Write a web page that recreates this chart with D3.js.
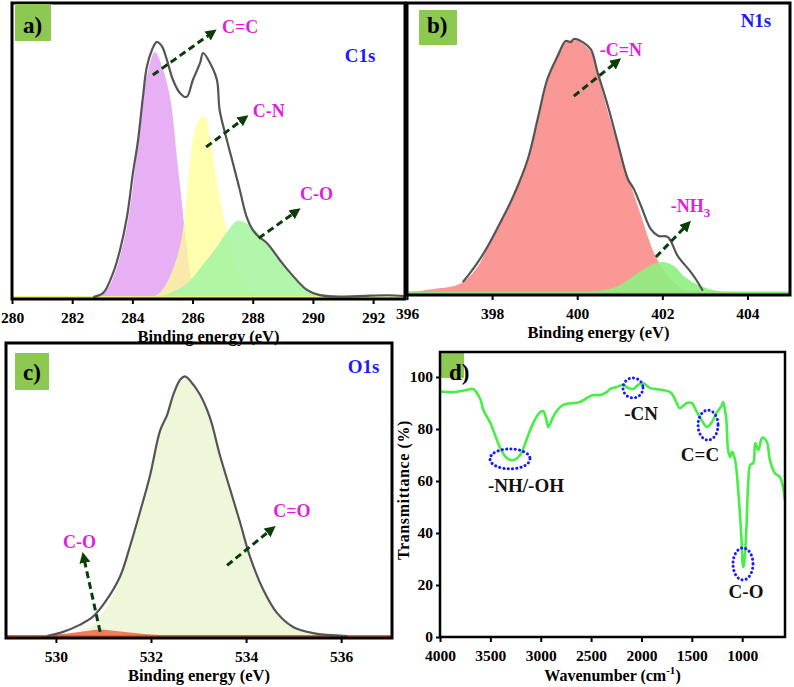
<!DOCTYPE html>
<html>
<head>
<meta charset="utf-8">
<script src="https://cdn.jsdelivr.net/npm/d3@7"></script>
<style>
  body { margin: 0; background: #fff; }
  svg text { font-family: "Liberation Serif", "Tinos", "DejaVu Serif", "Times New Roman", Times, serif !important; font-weight: bold; }
</style>
</head>
<body>
<svg id="fig" width="794" height="687"></svg>
<script>
// ---- C1s (eV, intensity a.u.) ----
const c1sEnvelope = [[282.7,0],[283.03,1.4],[283.36,8.2],[283.59,16],[283.82,27.2],[284.02,42.2],[284.19,53.4],[284.35,68],[284.48,78.2],[284.65,84],[284.8,86.7],[284.9,86.3],[285.0,85],[285.15,80.6],[285.35,73.8],[285.58,69.4],[285.8,68],[286.01,73.8],[286.25,79.6],[286.35,83],[286.58,79.6],[286.81,73.8],[286.9,63.6],[287.14,53.4],[287.34,45.6],[287.57,36.4],[287.8,27.2],[288.0,22.8],[288.2,20.5],[288.47,18.4],[288.9,12.6],[289.25,8.2],[289.8,2.4],[290.2,0.7],[290.7,0.2],[291.5,0.3],[292.5,0.6],[293.05,0.3]];
const c1sCC = [[280,0],[282.8,0],[283.15,2.4],[283.45,9],[283.8,23],[284.0,36],[284.25,59],[284.5,76],[284.75,83.3],[285.0,78],[285.25,68],[285.5,45.6],[285.6,36.4],[285.8,18],[286.0,5],[286.25,1.5],[286.6,0],[293.05,0]];
const c1sCN = [[280,0],[284.6,0],[284.9,1.4],[285.25,7],[285.6,18],[285.8,34],[286.0,53],[286.2,60],[286.4,61.6],[286.55,56],[286.7,47],[286.9,34],[287.15,22],[287.4,12],[287.7,5],[288.0,1.5],[288.4,0],[293.05,0]];
const c1sCO = [[280,0],[284.8,0],[285.3,1.5],[285.8,4.5],[286.3,10.5],[286.8,17],[287.2,23],[287.5,25.9],[287.8,25],[288.2,21.5],[288.6,16.5],[289.0,11],[289.4,6],[289.8,2.8],[290.3,0.8],[290.8,0],[293.05,0]];
const c1sTicks = [280, 282, 284, 286, 288, 290, 292];

// ---- N1s ----
const n1sEnvelope = [[397.31,3.8],[397.43,5.9],[397.67,10.7],[397.9,16.2],[398.2,24.5],[398.5,33.4],[398.84,46.2],[399.07,60],[399.3,73.8],[399.54,81.7],[399.73,86.9],[399.85,86.5],[399.92,87.6],[400.13,86.5],[400.32,84],[400.48,76],[400.72,64.5],[400.95,52],[401.19,39.3],[401.33,35.9],[401.5,30],[401.73,22],[401.9,19.7],[402.13,19.3],[402.36,12.8],[402.67,7.2],[402.83,3.8],[402.95,0.8]];
const n1sCN = [[396,0.3],[396.63,1.4],[397.27,3.4],[397.67,9.3],[397.97,18.6],[398.44,32.4],[398.84,47],[399.15,64.5],[399.45,79.6],[399.7,86],[399.9,87.2],[400.1,86.3],[400.32,83],[400.55,71.4],[400.86,55.5],[401.19,40.3],[401.5,26.6],[401.8,14],[402.13,5.9],[402.5,1.4],[403,0.3],[405,0]];
const n1sNH3 = [[396,0],[400.0,0.3],[400.5,0.7],[400.95,2.4],[401.5,7.6],[401.8,10],[402.05,10.7],[402.3,9],[402.5,5.9],[402.9,2.4],[403.3,0.7],[403.8,0],[405,0]];
const n1sTicks = [396, 398, 400, 402, 404];

// ---- O1s ----
const o1sEnvelope = [[529.81,0],[530.15,1.4],[530.5,3.8],[530.78,6.6],[531.07,12.4],[531.35,20.3],[531.56,30.7],[531.77,42.4],[531.98,54.8],[532.19,70],[532.34,75.5],[532.47,82.4],[532.62,87.6],[532.72,88.6],[532.82,87.2],[533.03,82.4],[533.24,74.5],[533.45,61.7],[533.66,50.3],[533.87,39],[534.08,27.2],[534.36,15.9],[534.65,7.9],[534.99,3.1],[535.41,1],[536.13,0]];
const o1sCdO = [[529.5,0],[530.0,0.2],[530.5,1.8],[530.8,4],[531.07,10],[531.35,19],[531.56,29.5],[531.77,41.5],[531.98,54],[532.19,69.5],[532.34,75],[532.47,82],[532.62,87.2],[532.72,88.2],[532.82,86.8],[533.03,82],[533.24,74],[533.45,61.2],[533.66,49.8],[533.87,38.5],[534.08,26.8],[534.36,15.5],[534.65,7.5],[534.99,2.8],[535.41,0.8],[536.2,0]];
const o1sCO = [[528.95,0],[529.5,0.1],[530.0,0.5],[530.5,1.4],[530.93,2.2],[531.3,1.6],[531.8,0.8],[532.3,0.3],[533,0],[537.07,0]];
const o1sTicks = [530, 532, 534, 536];

// ---- FTIR (cm-1, %T) ----
const ftir = [[4000,94.4],[3870,94.2],[3735,95],[3670,95.4],[3600,91.5],[3570,87.3],[3500,82.3],[3435,75.8],[3400,72.5],[3335,68.8],[3275,68],[3205,70],[3140,76],[3105,79.6],[3075,82.3],[3005,86.5],[2975,86.9],[2950,84.5],[2925,80.8],[2890,83.5],[2855,86.2],[2780,89.2],[2610,90.4],[2490,93],[2410,93.1],[2345,94.2],[2310,95.4],[2245,96.2],[2180,96.9],[2130,95.8],[2080,95.4],[2035,96.9],[1985,97.7],[1915,95.8],[1715,94.2],[1650,90],[1620,88],[1550,90],[1500,90],[1470,88],[1420,84.6],[1350,80.8],[1300,82.7],[1250,86.5],[1200,89.2],[1190,90.4],[1160,84.6],[1140,71.9],[1120,69.2],[1100,71.2],[1070,68],[1040,56.5],[1010,40],[990,26.9],[980,28.5],[960,40],[940,59.2],[920,66.2],[890,66.9],[870,74.6],[840,71.9],[800,76.7],[755,75],[725,68],[675,63],[625,61.5],[575,52.7]];
const ftirXTicks = [4000, 3500, 3000, 2500, 2000, 1500, 1000];
const ftirYTicks = [0, 20, 40, 60, 80, 100];
const ftirBands = [
  { label: '-NH/-OH', w: 3305, t: 68.5, rx: 20, ry: 10, lw: 3146, lt: 55.8 },
  { label: '-CN', w: 2084, t: 95.8, rx: 10, ry: 10, lw: 2004, lt: 83.5 },
  { label: 'C=C', w: 1339, t: 81.5, rx: 10, ry: 15, lw: 1419, lt: 67.7 },
  { label: 'C-O', w: 992, t: 28.1, rx: 10, ry: 16, lw: 962, lt: 15 },
];

const FONT = '"Liberation Serif", "DejaVu Serif", serif';
const svg = d3.select('#fig').attr('font-family', FONT);
const arrowColor = '#0b3d0b';
const magenta = '#e01ee0';

svg.append('defs').append('marker')
  .attr('id', 'arrow')
  .attr('viewBox', '0 0 10 10')
  .attr('refX', 6).attr('refY', 5)
  .attr('markerWidth', 11).attr('markerHeight', 11)
  .attr('markerUnits', 'userSpaceOnUse')
  .attr('orient', 'auto')
  .append('path').attr('d', 'M0,0L10,5L0,10z').attr('fill', arrowColor);

function txt(parent) {
  return parent.append('text').style('font-family', FONT).style('font-weight', 'bold');
}

function panelLetter(letter, bx, by, bw, bh, tx, ty) {
  svg.append('rect').attr('x', bx).attr('y', by).attr('width', bw).attr('height', bh).attr('fill', '#8dc850');
  if (letter) txt(svg).attr('x', tx).attr('y', ty).attr('font-size', 23).attr('fill', '#000').text(letter);
}

function styleAxis(g, size) {
  g.attr('font-family', FONT);
  g.select('.domain').remove();
  g.selectAll('.tick line').attr('stroke', '#000').attr('stroke-width', 2);
  g.selectAll('.tick text').attr('fill', '#000').attr('font-size', size)
    .style('font-family', FONT).style('font-weight', 'bold');
}

function xpsPanel(p) {
  const x = d3.scaleLinear().domain(p.domain).range([p.left, p.right]);
  const y = d3.scaleLinear().domain([0, 100]).range([p.base, p.top]);
  const curve = d3.curveCatmullRom.alpha(0.5);
  const area = d3.area().curve(curve).x(d => x(d[0])).y0(y(0)).y1(d => y(d[1]));
  const line = d3.line().curve(curve).x(d => x(d[0])).y(d => y(d[1]));
  const g = svg.append('g');

  p.fills.forEach(f => {
    g.append('path').datum(f.data).attr('d', area)
      .attr('fill', f.color).attr('fill-opacity', f.opacity);
  });
  g.append('line').attr('x1', x(p.domain[0])).attr('x2', x(p.domain[1]))
    .attr('y1', y(0)).attr('y2', y(0))
    .attr('stroke', p.baseColor).attr('stroke-width', p.baseWidth);
  g.append('path').datum(p.envelope).attr('d', line)
    .attr('fill', 'none').attr('stroke', '#555').attr('stroke-width', 2.2);

  const ax = g.append('g').attr('transform', `translate(0,${p.bottom})`)
    .call(d3.axisBottom(x).tickValues(p.ticks).tickSize(5).tickPadding(8).tickFormat(d3.format('d')));
  styleAxis(ax, 15.5);

  g.append('rect').attr('x', p.left).attr('y', p.top)
    .attr('width', p.right - p.left).attr('height', p.bottom - p.top)
    .attr('fill', 'none').attr('stroke', '#000').attr('stroke-width', 3);

  txt(g).attr('x', (p.left + p.right) / 2).attr('y', p.bottom + 43)
    .attr('text-anchor', 'middle').attr('font-size', 16.5).attr('fill', '#000')
    .text('Binding energy (eV)');

  p.arrows.forEach(a => {
    g.append('line')
      .attr('x1', x(a[0])).attr('y1', y(a[1])).attr('x2', x(a[2])).attr('y2', y(a[3]))
      .attr('stroke', arrowColor).attr('stroke-width', 3).attr('stroke-dasharray', '7,4')
      .attr('marker-end', 'url(#arrow)');
  });
  p.labels.forEach(l => {
    const t = txt(g).attr('x', x(l.e)).attr('y', y(l.v))
      .attr('font-size', 18).attr('fill', magenta).text(l.text);
    if (l.sub) t.append('tspan').attr('dy', 5).attr('font-size', 13).text(l.sub);
  });
  txt(g).attr('x', x(p.title.e)).attr('y', y(p.title.v))
    .attr('font-size', 19).attr('fill', '#1a1aff').text(p.title.text);
}

// a) C1s
xpsPanel({
  domain: [280, 293.06], left: 12, right: 405, top: 3, bottom: 299, base: 297,
  ticks: c1sTicks, envelope: c1sEnvelope,
  fills: [
    { data: c1sCC, color: '#e7b0f5', opacity: 1 },
    { data: c1sCN, color: '#ffff90', opacity: 0.72 },
    { data: c1sCO, color: '#a8f5a2', opacity: 0.9 },
  ],
  baseColor: '#f2f07a', baseWidth: 2,
  arrows: [[284.68, 75.5, 286.68, 90.1], [286.45, 51, 287.74, 60.9], [288.2, 20, 289.47, 29.3]],
  labels: [{ text: 'C=C', e: 286.98, v: 89.8 }, { text: 'C-N', e: 288.0, v: 61.2 }, { text: 'C-O', e: 289.57, v: 33 }],
  title: { text: 'C1s', e: 291.06, v: 80 },
});
panelLetter('a)', 15, 4, 36, 37, 23, 33);

// b) N1s
xpsPanel({
  domain: [396, 405], left: 407, right: 790, top: 3, bottom: 295, base: 293,
  ticks: n1sTicks, envelope: n1sEnvelope,
  fills: [
    { data: n1sCN, color: '#fa9896', opacity: 1 },
    { data: n1sNH3, color: '#8ef07f', opacity: 0.9 },
  ],
  baseColor: '#8ee67a', baseWidth: 3,
  arrows: [[399.92, 67.9, 400.95, 80], [401.85, 12.4, 402.6, 23.8]],
  labels: [{ text: '-C=N', e: 400.53, v: 81.7 }, { text: '-NH', sub: '3', e: 402.2, v: 27.9 }],
  title: { text: 'N1s', e: 403.84, v: 91.7 },
});
panelLetter('b)', 419, 10, 38, 35, 427, 33);

// c) O1s
xpsPanel({
  domain: [528.95, 537.07], left: 6, right: 392, top: 343, bottom: 638, base: 636,
  ticks: o1sTicks, envelope: o1sEnvelope,
  fills: [
    { data: o1sCdO, color: '#eef7da', opacity: 1 },
    { data: o1sCO, color: '#f07a5a', opacity: 1 },
  ],
  baseColor: '#d8603e', baseWidth: 2,
  arrows: [[533.6, 24.1, 534.55, 36.6], [530.93, 1.4, 530.58, 27.2]],
  labels: [{ text: 'C=O', e: 534.57, v: 40.7 }, { text: 'C-O', e: 530.15, v: 30.2 }],
  title: { text: 'O1s', e: 536.14, v: 89.7 },
});
panelLetter('c)', 15, 353, 34, 37, 23, 380);

// d) FTIR
panelLetter(null, 440, 352, 24, 26);
(function () {
  const left = 440, right = 785, top = 352, bottom = 637;
  const x = d3.scaleLinear().domain([4000, 575]).range([left, right]);
  const y = d3.scaleLinear().domain([0, 110]).range([bottom, top - 1]);
  const g = svg.append('g');

  g.append('path').datum(ftir)
    .attr('d', d3.line().curve(d3.curveCatmullRom.alpha(0.5)).x(d => x(d[0])).y(d => y(d[1])))
    .attr('fill', 'none').attr('stroke', '#46ee46').attr('stroke-width', 2.6);

  ftirBands.forEach(b => {
    g.append('ellipse').attr('cx', x(b.w)).attr('cy', y(b.t)).attr('rx', b.rx).attr('ry', b.ry)
      .attr('fill', 'none').attr('stroke', '#1a1aff').attr('stroke-width', 3)
      .attr('stroke-linecap', 'round').attr('stroke-dasharray', '0.1,4.2');
    txt(g).attr('x', x(b.lw)).attr('y', y(b.lt)).attr('text-anchor', 'middle')
      .attr('font-size', 19).attr('fill', '#111').text(b.label);
  });

  const ax = g.append('g').attr('transform', `translate(0,${bottom})`)
    .call(d3.axisBottom(x).tickValues(ftirXTicks).tickSize(5).tickPadding(8).tickFormat(d3.format('d')));
  styleAxis(ax, 15.5);
  const ay = g.append('g').attr('transform', `translate(${left},0)`)
    .call(d3.axisLeft(y).tickValues(ftirYTicks).tickSize(4).tickPadding(3).tickFormat(d3.format('d')));
  styleAxis(ay, 15.5);

  g.append('rect').attr('x', left).attr('y', top).attr('width', right - left).attr('height', bottom - top)
    .attr('fill', 'none').attr('stroke', '#000').attr('stroke-width', 2.5);

  txt(g).attr('x', 449).attr('y', 380).attr('font-size', 23).attr('fill', '#000').text('d)');

  const xl = txt(g).attr('x', (left + right) / 2).attr('y', 681)
    .attr('text-anchor', 'middle').attr('font-size', 16).attr('fill', '#000').text('Wavenumber (cm');
  xl.append('tspan').attr('dy', -7).attr('font-size', 11).text('-1');
  xl.append('tspan').attr('dy', 7).text(')');

  txt(g).attr('transform', 'translate(409,490) rotate(-90)')
    .attr('text-anchor', 'middle').attr('font-size', 16).attr('letter-spacing', 0.6)
    .attr('fill', '#000').text('Transmittance (%)');
})();
</script>
</body>
</html>
